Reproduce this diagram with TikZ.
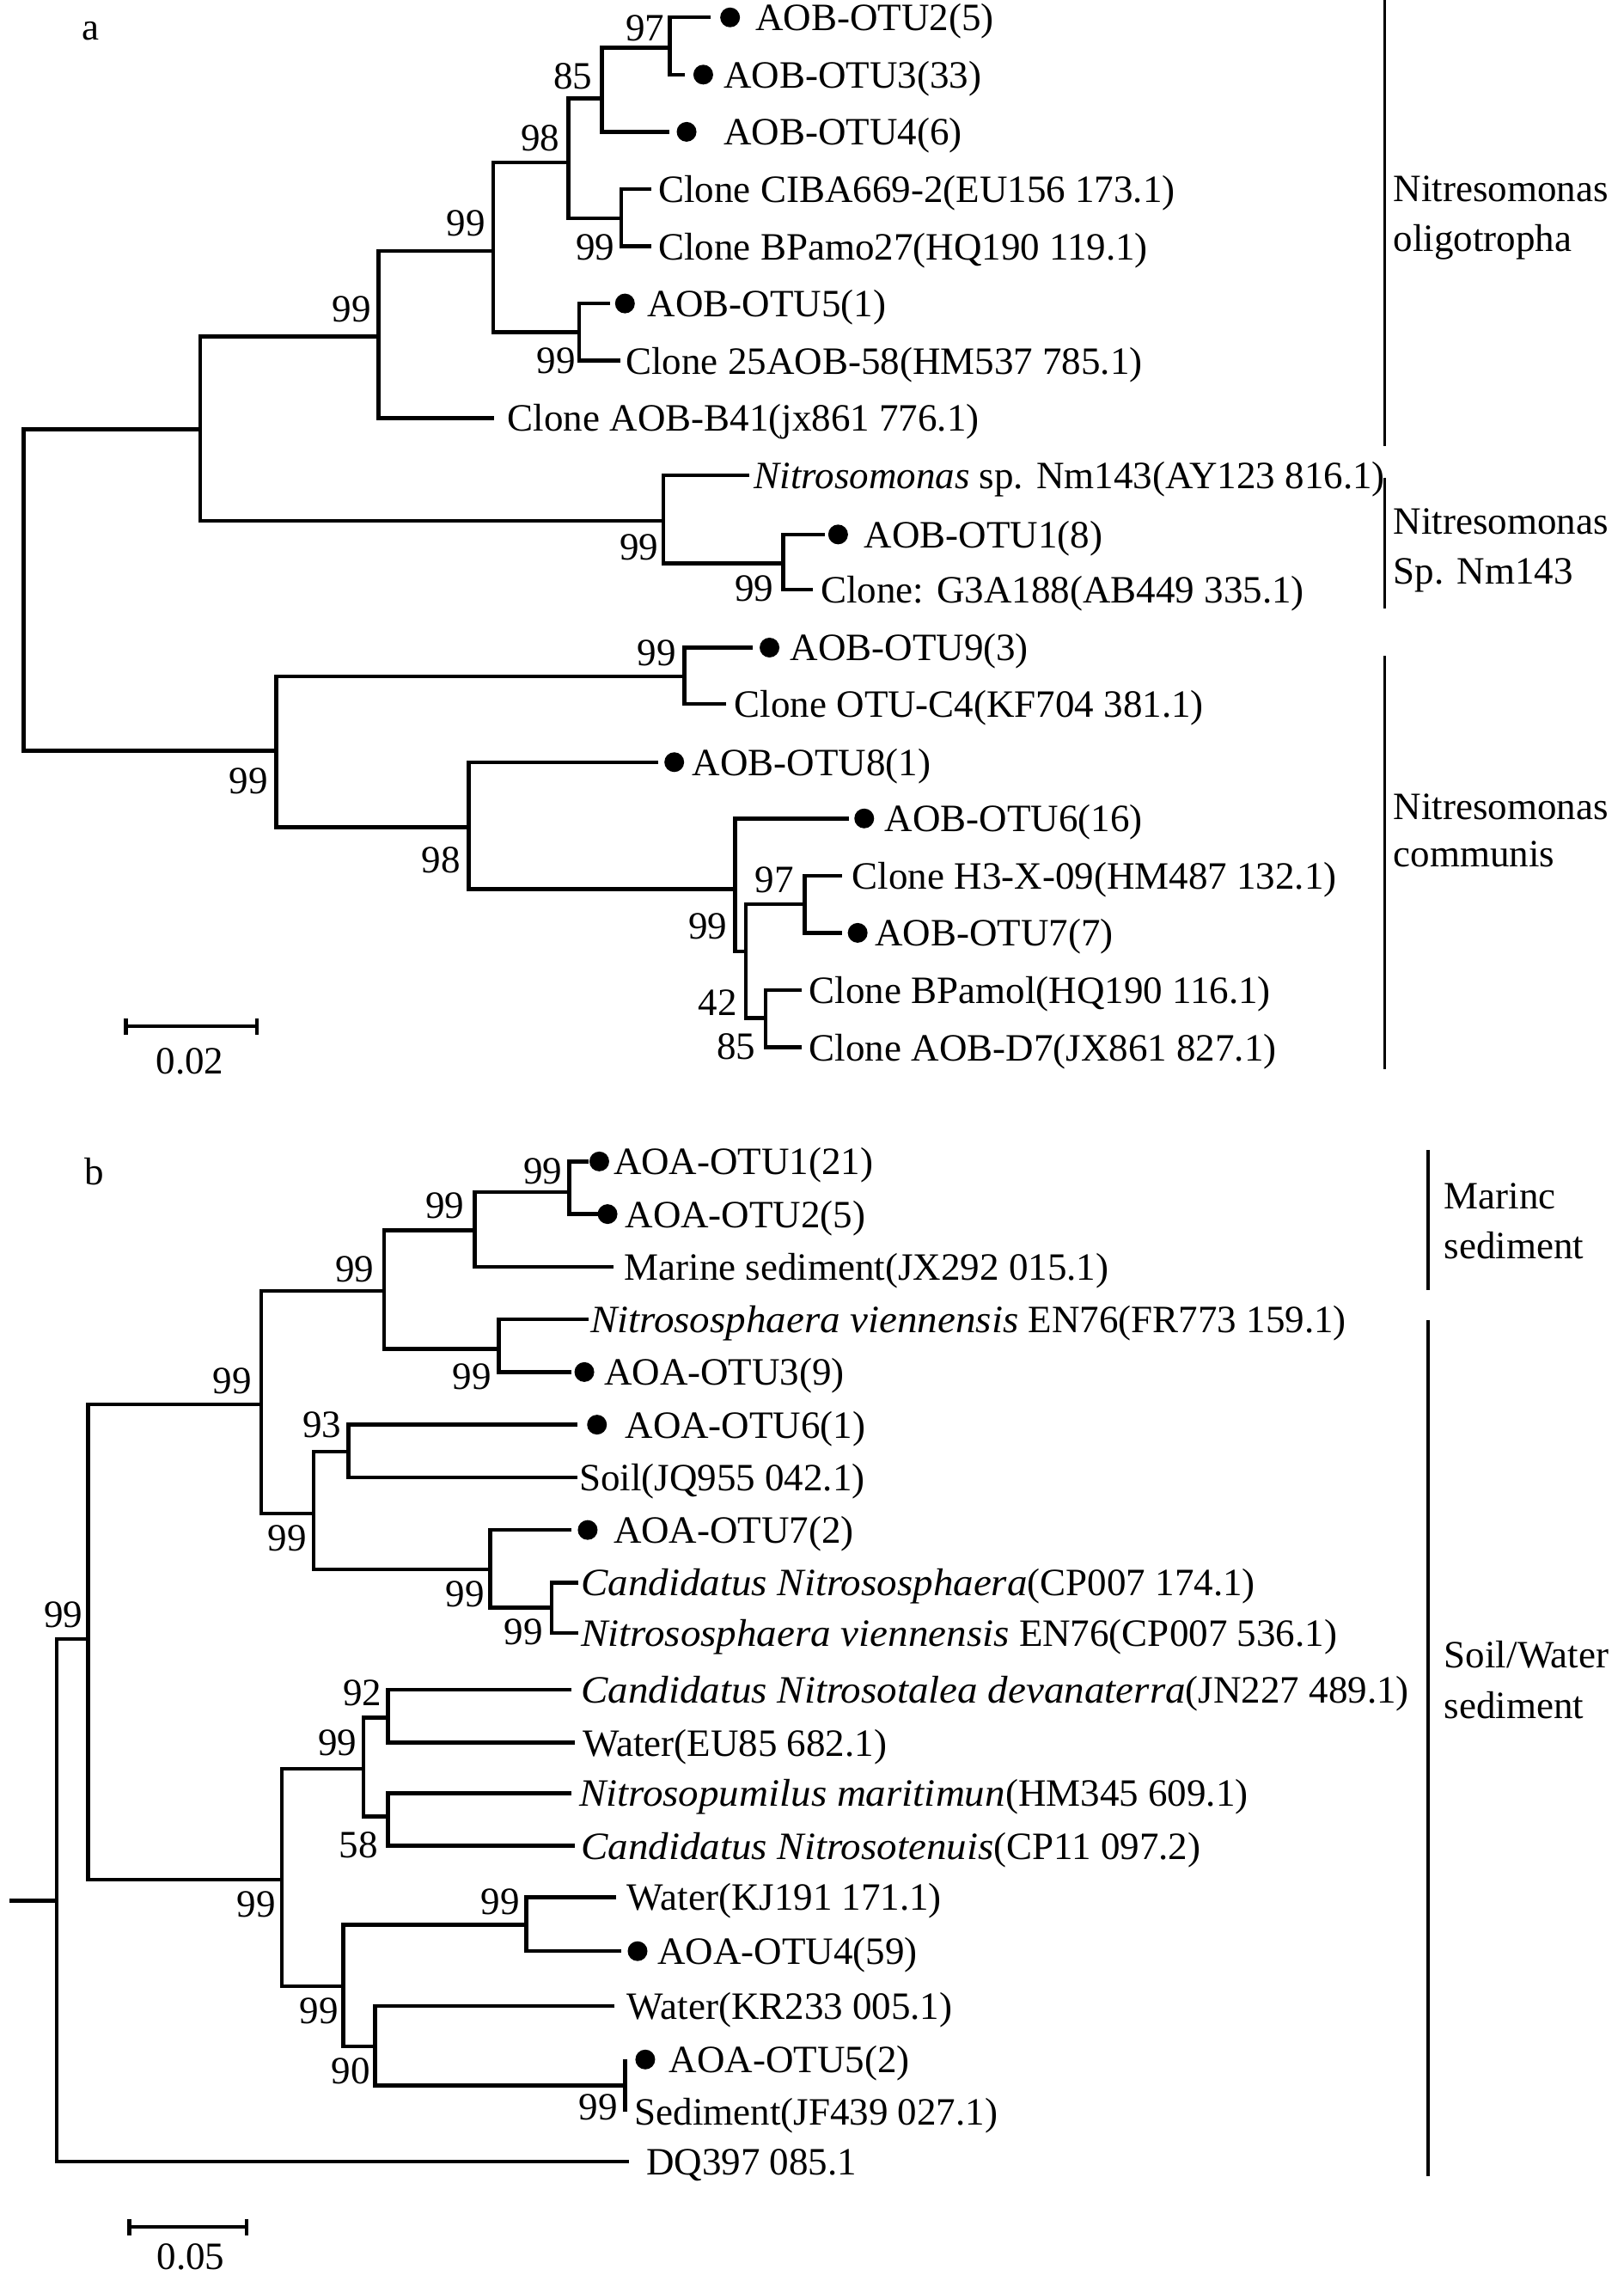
\documentclass[tikz,border=0pt]{standalone}
\usepackage{fontspec}
\setmainfont{Liberation Serif}
\newfontfamily\bfam[FakeStretch=1.045]{Liberation Serif}
\newcommand\bitx[1]{{\bfam\itshape #1\/}}
\begin{document}
\begin{tikzpicture}[x=1.6875pt,y=-1.6875pt,
  font=\fontsize{45pt}{54pt}\selectfont,
  br/.style={line width=4.5pt,line join=miter,line cap=butt},
  bar/.style={line width=3.6pt},
  sbar/.style={line width=4.5pt},
  dotn/.style={circle,fill=black,inner sep=0pt,minimum size=23pt},
  lt/.style={anchor=base west,inner sep=0pt,yshift=-15.5pt},
  bs/.style={anchor=base,inner sep=0pt,yshift=-15.5pt},
  ct/.style={anchor=base west,inner sep=0pt},
  pl/.style={anchor=base,inner sep=0pt}]
\useasboundingbox[fill=white] (0,0) rectangle (1120,1568.6);

% ---------------- panel a ----------------
\node[pl] (pa) at (62.8,27.3) {a};

% leaves
\coordinate (l0) at (490,12);      \node[dotn] (d0) at (503.5,12) {};   \node[lt] (t0) at (521,12) {AOB-OTU2(5)};
\coordinate (l1) at (472,51.45);   \node[dotn] (d1) at (485,51.45) {};  \node[lt] (t1) at (499,51.45) {AOB-OTU3(33)};
\coordinate (l2) at (461.5,90.9);  \node[dotn] (d2) at (473.5,90.9) {}; \node[lt] (t2) at (499,90.9) {AOB-OTU4(6)};
\coordinate (l3) at (449,130.35);  \node[lt] (t3) at (454,130.35) {Clone CIBA669-2(EU156 173.1)};
\coordinate (l4) at (449,169.8);   \node[lt] (t4) at (454,169.8) {Clone BPamo27(HQ190 119.1)};
\coordinate (l5) at (420.5,209.25);\node[dotn] (d5) at (431,209.25) {}; \node[lt] (t5) at (446.5,209.25) {AOB-OTU5(1)};
\coordinate (l6) at (428,248.7);   \node[lt] (t6) at (431.5,248.7) {Clone 25AOB-58(HM537 785.1)};
\coordinate (l7) at (341,288.15);  \node[lt] (t7) at (350,288.15) {Clone AOB-B41(jx861 776.1)};
\coordinate (l8) at (516.5,327.6); \node[lt] (t8) at (520,327.6) {\textit{Nitrosomonas} sp. Nm143(AY123 816.1)};
\coordinate (l9) at (568.6,368.5); \node[dotn] (d9) at (578,368.5) {};  \node[lt] (t9) at (596,368.5) {AOB-OTU1(8)};
\coordinate (l10) at (560.6,406.5);\node[lt] (t10) at (566,406.5) {Clone: G3A188(AB449 335.1)};
\coordinate (l11) at (519,446.5);  \node[dotn] (d11) at (530.7,446.5) {};\node[lt] (t11) at (544.8,446.5) {AOB-OTU9(3)};
\coordinate (l12) at (501,485.4);  \node[lt] (t12) at (506.4,485.4) {Clone OTU-C4(KF704 381.1)};
\coordinate (l13) at (454,525.5);  \node[dotn] (d13) at (465,525.5) {}; \node[lt] (t13) at (477.3,525.5) {AOB-OTU8(1)};
\coordinate (l14) at (585.5,564.3);\node[dotn] (d14) at (596,564.3) {}; \node[lt] (t14) at (610,564.3) {AOB-OTU6(16)};
\coordinate (l15) at (580.7,603.75);\node[lt] (t15) at (587.7,603.75) {Clone H3-X-09(HM487 132.1)};
\coordinate (l16) at (580.7,643.2);\node[dotn] (d16) at (591.5,643.2) {};\node[lt] (t16) at (603.4,643.2) {AOB-OTU7(7)};
\coordinate (l17) at (553,682.65); \node[lt] (t17) at (558,682.65) {Clone BPamol(HQ190 116.1)};
\coordinate (l18) at (553,722.1);  \node[lt] (t18) at (558,722.1) {Clone AOB-D7(JX861 827.1)};

% internal nodes
\coordinate (A8) at (462,33);
\coordinate (A6) at (415,68);
\coordinate (A7) at (428.5,150.5);
\coordinate (A4) at (392,112);
\coordinate (A5) at (399.5,229);
\coordinate (A3) at (340,173);
\coordinate (A2) at (261,232);
\coordinate (B2) at (540,388.5);
\coordinate (B1) at (457.5,359);
\coordinate (A1) at (138,296);
\coordinate (C2) at (472,466.5);
\coordinate (C6) at (555,623.5);
\coordinate (C7) at (528,702);
\coordinate (C5) at (514.5,656);
\coordinate (C4) at (507,613);
\coordinate (C3) at (323.3,570.4);
\coordinate (C1) at (190.5,517.5);
\coordinate (Ra) at (16.4,400);

\draw[br] (l0) -| (A8) |- (l1);
\draw[br] (A8) -| (A6) |- (l2);
\draw[br] (l3) -| (A7) |- (l4);
\draw[br] (A6) -| (A4) |- (A7);
\draw[br] (l5) -| (A5) |- (l6);
\draw[br] (A4) -| (A3) |- (A5);
\draw[br] (A3) -| (A2) |- (l7);
\draw[br] (l9) -| (B2) |- (l10);
\draw[br] (l8) -| (B1) |- (B2);
\draw[br] (A2) -| (A1) |- (B1);
\draw[br] (l11) -| (C2) |- (l12);
\draw[br] (l15) -| (C6) |- (l16);
\draw[br] (l17) -| (C7) |- (l18);
\draw[br] (C6) -| (C5) |- (C7);
\draw[br] (l14) -| (C4) |- (C5);
\draw[br] (l13) -| (C3) |- (C4);
\draw[br] (C2) -| (C1) |- (C3);
\draw[br] (A1) -| (Ra) |- (C1);

% bootstrap values
\node[bs] (bA8) at (445,19) {97};
\node[bs] (bA6) at (395,52) {85};
\node[bs] (bA4) at (372.7,95) {98};
\node[bs] (bA3) at (321.4,153.7) {99};
\node[bs] (bA2) at (242.4,212.5) {99};
\node[bs] (bA7) at (410.5,170) {99};
\node[bs] (bA5) at (383.5,248) {99};
\node[bs] (bB1) at (440.8,376.8) {99};
\node[bs] (bB2) at (520.2,405.3) {99};
\node[bs] (bC2) at (453,449.5) {99};
\node[bs] (bC1) at (171.4,538.1) {99};
\node[bs] (bC3) at (304.2,592.4) {98};
\node[bs] (bC4) at (488,638) {99};
\node[bs] (bC5) at (495,691) {42};
\node[bs] (bC6) at (534,606) {97};
\node[bs] (bC7) at (507.6,721) {85};

% clade bars
\coordinate (ga1) at (955,0);     \coordinate (gb1) at (955,307.4);
\coordinate (ga2) at (955,329.4); \coordinate (gb2) at (955,419.3);
\coordinate (ga3) at (955,452.4); \coordinate (gb3) at (955,737);
\draw[bar] (ga1) -- (gb1);
\draw[bar] (ga2) -- (gb2);
\draw[bar] (ga3) -- (gb3);
\node[ct] (c1a) at (961,139) {Nitresomonas};
\node[ct] (c1b) at (961,173.5) {oligotropha};
\node[ct] (c2a) at (961,368.3) {Nitresomonas};
\node[ct] (c2b) at (961,402.6) {Sp. Nm143};
\node[ct] (c3a) at (961,564.8) {Nitresomonas};
\node[ct] (c3b) at (961,597.9) {communis};

% scale bar a
\coordinate (sa1) at (86.8,707.5); \coordinate (sa2) at (177.2,707.5);
\draw[sbar] (sa1) -- (sa2);
\draw[sbar] (86.8,702.2) -- (86.8,713.3);
\draw[sbar] (177.2,702.2) -- (177.2,713.3);
\node[pl] (sla) at (131,740.5) {0.02};

% ---------------- panel b ----------------
\node[pl] (pb) at (64.8,816.7) {b};

\coordinate (m0) at (405.9,800.8);  \node[dotn] (e0) at (413.3,800.8) {}; \node[lt] (u0) at (423,800.8) {AOA-OTU1(21)};
\coordinate (m1) at (412.5,837.1);  \node[dotn] (e1) at (419,837.1) {};   \node[lt] (u1) at (431,837.1) {AOA-OTU2(5)};
\coordinate (m2) at (423,873.4);    \node[lt] (u2) at (430.5,873.4) {Marine sediment(JX292 015.1)};
\coordinate (m3) at (405.9,909.7);  \node[lt] (u3) at (407,909.7) {\bitx{Nitrososphaera viennensis} EN76(FR773 159.1)};
\coordinate (m4) at (394,946);      \node[dotn] (e4) at (403,946) {};     \node[lt] (u4) at (416.5,946) {AOA-OTU3(9)};
\coordinate (m5) at (398,982.3);    \node[dotn] (e5) at (411.7,982.3) {}; \node[lt] (u5) at (431,982.3) {AOA-OTU6(1)};
\coordinate (m6) at (398,1018.6);   \node[lt] (u6) at (399.3,1018.6) {Soil(JQ955 042.1)};
\coordinate (m7) at (394,1054.9);   \node[dotn] (e7) at (405.3,1054.9) {};\node[lt] (u7) at (423,1054.9) {AOA-OTU7(2)};
\coordinate (m8) at (399,1091.2);   \node[lt] (u8) at (400.6,1091.2) {\bitx{Candidatus Nitrososphaera}(CP007 174.1)};
\coordinate (m9) at (399,1126);     \node[lt] (u9) at (400.6,1126) {\bitx{Nitrososphaera viennensis} EN76(CP007 536.1)};
\coordinate (m10) at (394,1165);    \node[lt] (u10) at (400.6,1165) {\bitx{Candidatus Nitrosotalea devanaterra}(JN227 489.1)};
\coordinate (m11) at (396.6,1201.5);\node[lt] (u11) at (401.9,1201.5) {Water(EU85 682.1)};
\coordinate (m12) at (394,1236.4);  \node[lt] (u12) at (399.3,1236.4) {\bitx{Nitrosopumilus maritimun}(HM345 609.1)};
\coordinate (m13) at (396.6,1272.7);\node[lt] (u13) at (400.6,1272.7) {\bitx{Candidatus Nitrosotenuis}(CP11 097.2)};
\coordinate (m14) at (424.9,1308);  \node[lt] (u14) at (432.3,1308) {Water(KJ191 171.1)};
\coordinate (m15) at (428.4,1345.3);\node[dotn] (e15) at (439.7,1345.3) {};\node[lt] (u15) at (453.5,1345.3) {AOA-OTU4(59)};
\coordinate (m16) at (423.9,1383);  \node[lt] (u16) at (432.3,1383) {Water(KR233 005.1)};
\coordinate (m17) at (431,1420);    \node[dotn] (e17) at (445,1420) {};   \node[lt] (u17) at (461.4,1420) {AOA-OTU5(2)};
\coordinate (m18) at (431,1456);    \node[lt] (u18) at (437.6,1456) {Sediment(JF439 027.1)};
\coordinate (m19) at (433.6,1490.5);\node[lt] (u19) at (445.6,1490.5) {DQ397 085.1};

\coordinate (R9) at (392.5,822);
\coordinate (R6) at (327.5,848.4);
\coordinate (R7) at (343.9,930);
\coordinate (R4) at (265,890.2);
\coordinate (R10) at (240.2,1001);
\coordinate (R12) at (380.4,1108.5);
\coordinate (R11) at (338,1082);
\coordinate (R5) at (216.4,1043.4);
\coordinate (R3) at (180,968.3);
\coordinate (R15) at (267.7,1184.2);
\coordinate (R16) at (267.7,1252.5);
\coordinate (R13) at (250.8,1219.4);
\coordinate (R17) at (363,1327);
\coordinate (R19) at (431,1438);
\coordinate (R18) at (258.7,1411);
\coordinate (R14) at (236.8,1369.4);
\coordinate (R8) at (194.4,1296);
\coordinate (R2) at (60.8,1130);
\coordinate (R1) at (39.2,1310.4);
\coordinate (R0) at (6.6,1310.4);

\draw[br] (m0) -| (R9) |- (m1);
\draw[br] (R9) -| (R6) |- (m2);
\draw[br] (m3) -| (R7) |- (m4);
\draw[br] (R6) -| (R4) |- (R7);
\draw[br] (m5) -| (R10) |- (m6);
\draw[br] (m8) -| (R12) |- (m9);
\draw[br] (m7) -| (R11) |- (R12);
\draw[br] (R10) -| (R5) |- (R11);
\draw[br] (R4) -| (R3) |- (R5);
\draw[br] (m10) -| (R15) |- (m11);
\draw[br] (m12) -| (R16) |- (m13);
\draw[br] (R15) -| (R13) |- (R16);
\draw[br] (m14) -| (R17) |- (m15);
\draw[br] (m17) -- (R19) -- (m18);
\draw[br] (m16) -| (R18) |- (R19);
\draw[br] (R17) -| (R14) |- (R18);
\draw[br] (R13) -| (R8) |- (R14);
\draw[br] (R3) -| (R2) |- (R8);
\draw[br] (R2) -| (R1) |- (m19);
\draw[br] (R0) -- (R1);

\node[bs] (bR9) at (374.3,807.4) {99};
\node[bs] (bR6) at (306.9,831) {99};
\node[bs] (bR4) at (244.7,874.9) {99};
\node[bs] (bR7) at (325.4,949) {99};
\node[bs] (bR3) at (160,951.6) {99};
\node[bs] (bR10) at (222,982) {93};
\node[bs] (bR5) at (198,1060) {99};
\node[bs] (bR11) at (320.6,1098.4) {99};
\node[bs] (bR12) at (361,1125) {99};
\node[bs] (bR2) at (43.6,1113) {99};
\node[bs] (bR15) at (250,1167) {92};
\node[bs] (bR13) at (232.8,1201.4) {99};
\node[bs] (bR16) at (247.4,1271.5) {58};
\node[bs] (bR8) at (176.7,1312.5) {99};
\node[bs] (bR17) at (345,1311) {99};
\node[bs] (bR14) at (220,1386) {99};
\node[bs] (bR18) at (242,1427.6) {90};
\node[bs] (bR19) at (412.5,1452.7) {99};

\coordinate (ha1) at (984.8,792.9); \coordinate (hb1) at (984.8,889.4);
\coordinate (ha2) at (984.8,910);   \coordinate (hb2) at (984.8,1500.4);
\draw[bar] (ha1) -- (hb1);
\draw[bar] (ha2) -- (hb2);
\node[ct] (k1a) at (996,833.4) {Marinc};
\node[ct] (k1b) at (996,867.8) {sediment};
\node[ct] (k2a) at (996,1150) {Soil/Water};
\node[ct] (k2b) at (996,1185) {sediment};

\coordinate (sb1) at (89.2,1535.5); \coordinate (sb2) at (170.1,1535.5);
\draw[sbar] (sb1) -- (sb2);
\draw[sbar] (89.2,1530.3) -- (89.2,1541.4);
\draw[sbar] (170.1,1530.3) -- (170.1,1541.4);
\node[pl] (slb) at (131.5,1564.5) {0.05};
\end{tikzpicture}
\end{document}
